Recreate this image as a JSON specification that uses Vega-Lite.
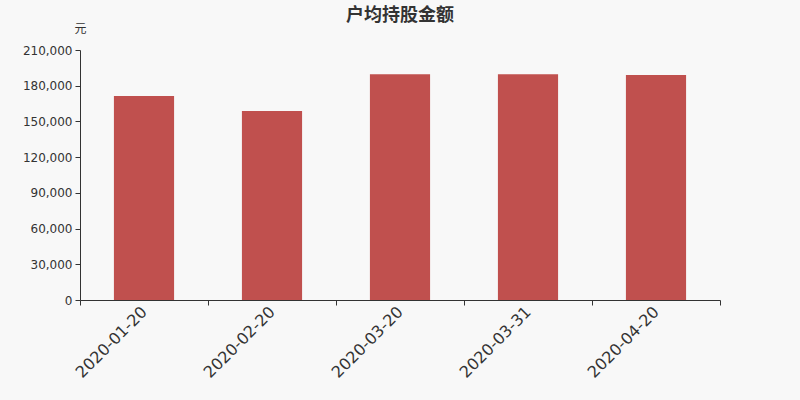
{
  "$schema": "https://vega.github.io/schema/vega-lite/v6.json",
  "autosize": "none",
  "width": 640,
  "height": 250,
  "padding": {"left": 80, "top": 50, "right": 80, "bottom": 100},
  "background": "#f8f8f8",
  "title": {
    "text": "户均持股金额",
    "font": "Noto Sans CJK SC",
    "fontSize": 18,
    "fontWeight": "bold",
    "color": "#333333",
    "anchor": "middle",
    "frame": "group",
    "offset": -3
  },
  "data": {
    "values": [
      {"date": "2020-01-20", "value": 171400},
      {"date": "2020-02-20", "value": 158700},
      {"date": "2020-03-20", "value": 189600},
      {"date": "2020-03-31", "value": 189600},
      {"date": "2020-04-20", "value": 189000}
    ]
  },
  "config": {
    "view": {"stroke": null},
    "axis": {"domainColor": "#333333", "tickColor": "#333333", "labelColor": "#333333", "grid": false}
  },
  "mark": {"type": "bar", "color": "#c0504e", "width": {"band": 0.47}},
  "encoding": {
    "x": {
      "field": "date",
      "type": "ordinal",
      "sort": null,
      "scale": {"paddingInner": 0, "paddingOuter": 0},
      "axis": {
        "title": null,
        "tickBand": "extent",
        "labelAngle": -45,
        "labelAlign": "right",
        "labelBaseline": "middle",
        "labelFont": "DejaVu Sans",
        "labelFontSize": 16,
        "labelPadding": 4,
        "tickSize": 5
      }
    },
    "y": {
      "field": "value",
      "type": "quantitative",
      "scale": {"domain": [0, 210000], "nice": false},
      "axis": {
        "values": [0, 30000, 60000, 90000, 120000, 150000, 180000, 210000],
        "format": ",d",
        "labelFont": "DejaVu Sans",
        "labelFontSize": 12,
        "tickSize": 5,
        "labelPadding": 3,
        "title": "元",
        "titleFont": "Noto Sans CJK SC",
        "titleFontSize": 12,
        "titleFontWeight": "normal",
        "titleColor": "#333333",
        "titleAngle": 0,
        "titleX": 0,
        "titleY": -22,
        "titleAlign": "center",
        "titleBaseline": "middle"
      }
    }
  }
}
